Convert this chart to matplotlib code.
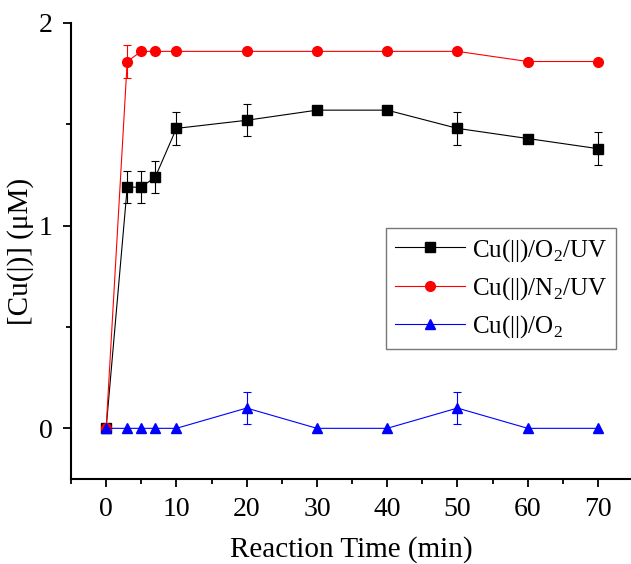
import matplotlib.pyplot as plt
from matplotlib.ticker import MultipleLocator

plt.rcParams['font.family'] = ['Liberation Serif', 'DejaVu Serif']
plt.rcParams['mathtext.fontset'] = 'custom'
plt.rcParams['mathtext.rm'] = 'Liberation Serif'

# Data
time = [0, 3, 5, 7, 10, 20, 30, 40, 50, 60, 70]
cu_o2_uv = [0, 1.19, 1.19, 1.24, 1.48, 1.52, 1.57, 1.57, 1.48, 1.43, 1.38]
cu_o2_uv_err = [0, 0.08, 0.08, 0.08, 0.08, 0.08, 0, 0, 0.08, 0, 0.08]
cu_n2_uv = [0, 1.81, 1.86, 1.86, 1.86, 1.86, 1.86, 1.86, 1.86, 1.81, 1.81]
cu_n2_uv_err = [0, 0.08, 0, 0, 0, 0, 0, 0, 0, 0, 0]
cu_o2 = [0, 0, 0, 0, 0, 0.10, 0, 0, 0.10, 0, 0]
cu_o2_err = [0, 0, 0, 0, 0, 0.08, 0, 0, 0.08, 0, 0]

labels = ['Cu(||)/O$_2$/UV', 'Cu(||)/N$_2$/UV', 'Cu(||)/O$_2$']

fig = plt.figure(figsize=(6.31, 5.64), dpi=100)
ax = fig.add_axes([71/631, 1 - 479/564, 1 - 71/631, (479 - 23)/564])

handles = []
def draw(y, err, color, marker, ms, label):
    yerr = [e if e > 0 else float('nan') for e in err]
    c = ax.errorbar(time, y, yerr=yerr, color=color, lw=0.8, marker=marker,
                    ms=ms, mec=color, mfc=color, capsize=2.8, elinewidth=0.8,
                    capthick=0.8, label=label)
    handles.append(c[0])

draw(cu_o2_uv, cu_o2_uv_err, 'black', 's', 6.5, labels[0])
draw(cu_n2_uv, cu_n2_uv_err, '#ff0000', 'o', 7, labels[1])
draw(cu_o2, cu_o2_err, '#0000ff', '^', 7.5, labels[2])

ax.set_xlim(-5, 74.7)
ax.set_ylim(-0.25, 2.0)
ax.xaxis.set_major_locator(MultipleLocator(10))
ax.xaxis.set_minor_locator(MultipleLocator(5))
ax.yaxis.set_major_locator(MultipleLocator(1))
ax.yaxis.set_minor_locator(MultipleLocator(0.5))
ax.set_xticks(range(0, 71, 10))

for s in ['top', 'right']:
    ax.spines[s].set_visible(False)
for s in ['left', 'bottom']:
    ax.spines[s].set_linewidth(1.5)

ax.tick_params(which='major', direction='out', length=6, width=1.3, labelsize=20, pad=7)
ax.tick_params(which='minor', direction='out', length=3.5, width=1.3)

ax.set_xlabel('Reaction Time (min)', fontsize=21, labelpad=10)
ax.set_ylabel('[Cu(|)] (μM)', fontsize=21, labelpad=4)

leg = ax.legend(handles, labels, loc='upper left',
                bbox_to_anchor=(386/631, 1 - 228/564),
                bbox_transform=fig.transFigure, fontsize=18, frameon=True,
                fancybox=False, edgecolor='#555555', handlelength=2.8,
                borderpad=0.35, labelspacing=0.45, handletextpad=0.3,
                borderaxespad=0)
leg.get_frame().set_linewidth(1.0)

fig.savefig('out.png', dpi=100)
